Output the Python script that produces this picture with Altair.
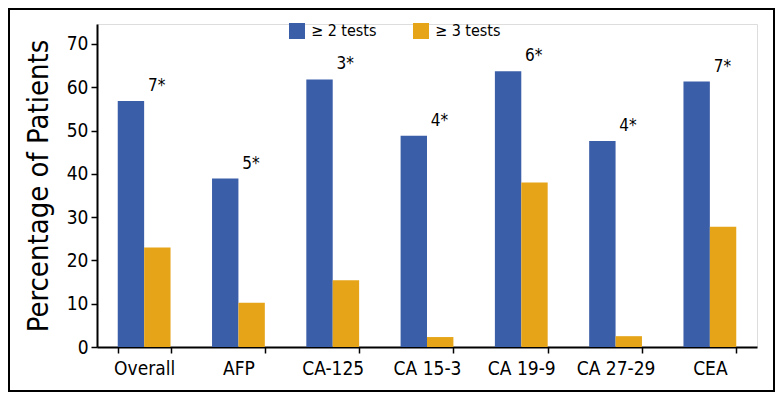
import altair as alt
import pandas as pd

categories = ["Overall", "AFP", "CA-125", "CA 15-3", "CA 19-9", "CA 27-29", "CEA"]
series_names = ["≥ 2 tests", "≥ 3 tests"]
two_tests = [56.8, 38.9, 61.8, 48.8, 63.7, 47.6, 61.3]
three_tests = [23.0, 10.2, 15.4, 2.3, 38.0, 2.5, 27.8]
labels = ["7*", "5*", "3*", "4*", "6*", "4*", "7*"]
colors = ["#3B5EA8", "#E6A519"]

rows = []
for c, a, b in zip(categories, two_tests, three_tests):
    rows.append({"cat": c, "series": series_names[0], "value": a})
    rows.append({"cat": c, "series": series_names[1], "value": b})
df = pd.DataFrame(rows)
lab_df = pd.DataFrame({"cat": categories, "value": two_tests, "label": labels,
                       "series": [series_names[0]] * len(categories)})

FONT = "DejaVu Sans Condensed, Roboto Condensed, Liberation Sans, sans-serif"
W, H = 660, 323
PL, PT, PR, PB = 89, 16, 18, 45

xscale = alt.Scale(domain=categories, paddingInner=0.44, paddingOuter=0.22)
yscale = alt.Scale(domain=[0, 74.6], nice=False)

bars = alt.Chart(df).mark_bar().encode(
    x=alt.X("cat:N", scale=xscale, sort=categories,
            axis=alt.Axis(title=None, labelAngle=0, tickBand="extent", labelFontSize=19,
                          labelFont=FONT, labelColor="black", labelPadding=6,
                          domainColor="black", tickColor="black", tickSize=6,
                          domainWidth=2, tickWidth=1.5)),
    xOffset=alt.XOffset("series:N", sort=series_names),
    y=alt.Y("value:Q", scale=yscale,
            axis=alt.Axis(title="Percentage of Patients", values=[0, 10, 20, 30, 40, 50, 60, 70],
                          grid=False, labelFontSize=19, labelFont=FONT, labelColor="black",
                          titleFontSize=29, titleFont=FONT, titleFontWeight="normal",
                          titleColor="black", titlePadding=13, domainColor="black",
                          tickColor="black", tickSize=6, domainWidth=2, tickWidth=1.5,
                          labelPadding=3)),
    color=alt.Color("series:N", scale=alt.Scale(domain=series_names, range=colors),
                    legend=alt.Legend(title=None, orient="none", legendX=192, legendY=-1,
                                      direction="horizontal", symbolType="square",
                                      symbolSize=256, symbolStrokeWidth=0, symbolOpacity=1,
                                      labelFontSize=16, labelFont=FONT, labelColor="black",
                                      labelOffset=6, columnPadding=36)),
)

text = alt.Chart(lab_df).mark_text(align="left", baseline="bottom", dx=17, dy=-6,
                                   fontSize=17, font=FONT, color="black").encode(
    x=alt.X("cat:N", scale=xscale, sort=categories),
    xOffset=alt.XOffset("series:N", scale=alt.Scale(domain=series_names)),
    y=alt.Y("value:Q", scale=yscale),
    text="label:N",
)

frame = alt.Chart(pd.DataFrame({"a": [0]})).mark_rect(
    filled=False, stroke="black", strokeWidth=2, clip=False).encode(
    x=alt.value(-PL + 1), x2=alt.value(W + PR - 1),
    y=alt.value(-PT + 1), y2=alt.value(H + PB - 1))

chart = alt.layer(bars, text, frame).properties(
    width=W, height=H,
    autosize=alt.AutoSizeParams(type="none"),
    padding={"left": PL, "top": PT, "right": PR, "bottom": PB},
).configure_view(stroke=None).configure(background="white")

chart.save("out.html", embed_options={"renderer": "svg", "actions": False})
